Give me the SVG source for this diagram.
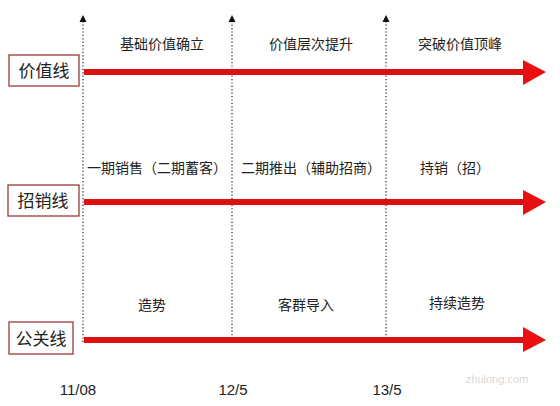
<svg xmlns="http://www.w3.org/2000/svg" width="560" height="406" viewBox="0 0 560 406">
<style>
.zh{font-family:"Noto Sans CJK SC","Liberation Sans",sans-serif;fill:#222;text-anchor:middle}
.lbl{font-size:17px}
.t{font-size:14px}
.d{font-family:"Liberation Sans",sans-serif;font-size:15px;fill:#222;text-anchor:middle}
.box{fill:#fff;stroke:#9a3a3a;stroke-width:1.3}
.dot{stroke:#222;stroke-width:1.2;stroke-dasharray:1.2 2.2;fill:none}
.red{stroke:#dc1010;stroke-width:6;fill:none}
.head{fill:#e81010}
.tip{fill:#111}
</style>
<rect width="560" height="406" fill="#fff"/>
<g id="connectors">
<line class="dot" x1="83" y1="342" x2="83" y2="20"/>
<polygon class="tip" points="79.5,22 83,15 86.5,22"/>
<line class="dot" x1="232" y1="342" x2="232" y2="20"/>
<polygon class="tip" points="228.5,22 232,15 235.5,22"/>
<line class="dot" x1="386" y1="342" x2="386" y2="20"/>
<polygon class="tip" points="382.5,22 386,15 389.5,22"/>
<line class="red" x1="84" y1="72" x2="525" y2="72"/>
<polygon class="head" points="523,60 546,72 523,85"/>
<line class="red" x1="84" y1="202" x2="525" y2="202"/>
<polygon class="head" points="523,190 546,202 523,215"/>
<line class="red" x1="84" y1="340" x2="525" y2="340"/>
<polygon class="head" points="523,327 546,340 523,352"/>
</g>
<g id="label-value">
<rect class="box" x="9" y="55" width="70" height="31"/>
<text class="zh lbl" x="44" y="77">价值线</text>
</g>
<g id="label-sales">
<rect class="box" x="8" y="185" width="71" height="31"/>
<text class="zh lbl" x="43" y="207">招销线</text>
</g>
<g id="label-pr">
<rect class="box" x="9" y="322" width="64" height="32"/>
<text class="zh lbl" x="41" y="345">公关线</text>
</g>
<g id="row1">
<text class="zh t" x="162" y="49">基础价值确立</text>
<text class="zh t" x="311" y="49">价值层次提升</text>
<text class="zh t" x="460" y="49">突破价值顶峰</text>
</g>
<g id="row2">
<text class="zh t" x="157" y="173">一期销售（二期蓄客）</text>
<text class="zh t" x="311" y="173">二期推出（辅助招商）</text>
<text class="zh t" x="455" y="173">持销（招）</text>
</g>
<g id="row3">
<text class="zh t" x="152" y="310">造势</text>
<text class="zh t" x="306" y="310">客群导入</text>
<text class="zh t" x="457" y="308">持续造势</text>
</g>
<g id="dates">
<text class="d" x="78" y="395">11/08</text>
<text class="d" x="233" y="395">12/5</text>
<text class="d" x="387" y="395">13/5</text>
</g>
<text x="497" y="383" font-family="Liberation Sans,sans-serif" font-size="11" fill="#d8d8d8" text-anchor="middle">zhulong.com</text>
</svg>
